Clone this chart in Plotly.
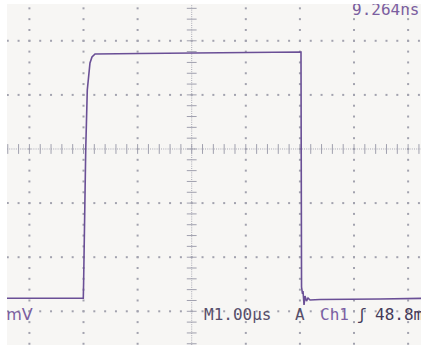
import numpy as np
import plotly.graph_objects as go

# Waveform (time in µs, level in vertical divisions)
time_us = [-3.414, -2.004, -1.998, -1.985, -1.959, -1.930, -1.908, -1.880, -1.843,
           -1.787, -0.956, -0.031, 0.893, 1.632, 2.011, 2.020, 2.024, 2.030, 2.048,
           2.057, 2.076, 2.094, 2.122, 2.150, 2.187, 2.372, 3.481, 4.312]
level_div = [-2.760, -2.760, -2.477, -1.257, -0.018, 1.091, 1.368, 1.590, 1.701,
             1.756, 1.765, 1.775, 1.780, 1.793, 1.799, 1.793, -0.018, -2.551, -2.680,
             -2.625, -2.884, -2.717, -2.810, -2.754, -2.791, -2.782, -2.773, -2.760]

# Readout texts
top_readout = "9.264ns"
left_readout = "0mV"
timebase = "M1.00µs"
acq = "A"
channel = "Ch1"
slope = "ʃ"
trig_level = "48.8mV"

X0, X1 = -3.414, 4.238
Y0, Y1 = -3.623, 2.680

major_x = [-3, -2, -1, 1, 2, 3, 4]
major_y = [-3, -2, -1, 1, 2]
minor_x = np.round(np.arange(-3.4, 4.3, 0.2), 3)
minor_y = np.round(np.arange(-3.6, 2.7, 0.2), 3)

fig = go.Figure()

# Grid dots
gx, gy = [], []
for mx in major_x:
    for my in minor_y:
        gx.append(mx); gy.append(my)
for my in major_y:
    for mx in minor_x:
        gx.append(mx); gy.append(my)
fig.add_trace(go.Scatter(x=gx, y=gy, mode="markers",
                         marker=dict(symbol="square", size=2, color="#a2a2ae", line=dict(width=0)),
                         hoverinfo="skip"))

# Centre crosshair: dense dotted lines + ticks
fig.add_trace(go.Scatter(x=[X0, X1], y=[0, 0], mode="lines",
                         line=dict(color="#a8a8b4", width=1, dash="1px,1.2px"), hoverinfo="skip"))
fig.add_trace(go.Scatter(x=[0, 0], y=[Y0, Y1], mode="lines",
                         line=dict(color="#a8a8b4", width=1, dash="1px,1.2px"), hoverinfo="skip"))
fig.add_trace(go.Scatter(x=list(minor_x), y=[0] * len(minor_x), mode="markers",
                         marker=dict(symbol="line-ns", size=7, line=dict(width=1, color="#a0a0ae")),
                         hoverinfo="skip"))
fig.add_trace(go.Scatter(x=[0] * len(minor_y), y=list(minor_y), mode="markers",
                         marker=dict(symbol="line-ew", size=7, line=dict(width=1, color="#a0a0ae")),
                         hoverinfo="skip"))

# Waveform
fig.add_trace(go.Scatter(x=time_us, y=level_div, mode="lines",
                         line=dict(color="#6a4f96", width=1.6), hoverinfo="skip"))

def px_to_x(px):
    return (px - 191.7) / 54.1

def px_to_y(py):
    return (149 - py) / 54.1

def label(text, px, py, color, size=15, family="DejaVu Sans Mono"):
    fig.add_trace(go.Scatter(x=[px_to_x(px)], y=[px_to_y(py)], mode="text", text=[text],
                             textposition="middle right",
                             textfont=dict(family=family, size=size, color=color),
                             cliponaxis=True, hoverinfo="skip"))

label(top_readout, 352, 11, "#7b5ea0", size=16)
label(left_readout, -4, 316, "#7b5ea0", size=16, family="DejaVu Sans")
label(timebase, 204, 316, "#564e6a", size=16)
label(acq, 295, 316, "#564e6a", size=16)
label(channel, 320, 316, "#7c5fa4", size=16)
label(slope, 357, 316, "#443a58", size=16)
label(trig_level, 375, 316, "#443a58", size=16)

fig.update_layout(
    width=425, height=345,
    margin=dict(l=7, r=4, t=4, b=0),
    paper_bgcolor="#ffffff",
    plot_bgcolor="#f7f6f4",
    showlegend=False,
    xaxis=dict(range=[X0, X1], showgrid=False, zeroline=False, showticklabels=False,
               ticks="", fixedrange=True),
    yaxis=dict(range=[Y0, Y1], showgrid=False, zeroline=False, showticklabels=False,
               ticks="", fixedrange=True),
)

fig.write_html("out.html", config={"displayModeBar": False},
               post_script="document.body.style.margin='0';")
